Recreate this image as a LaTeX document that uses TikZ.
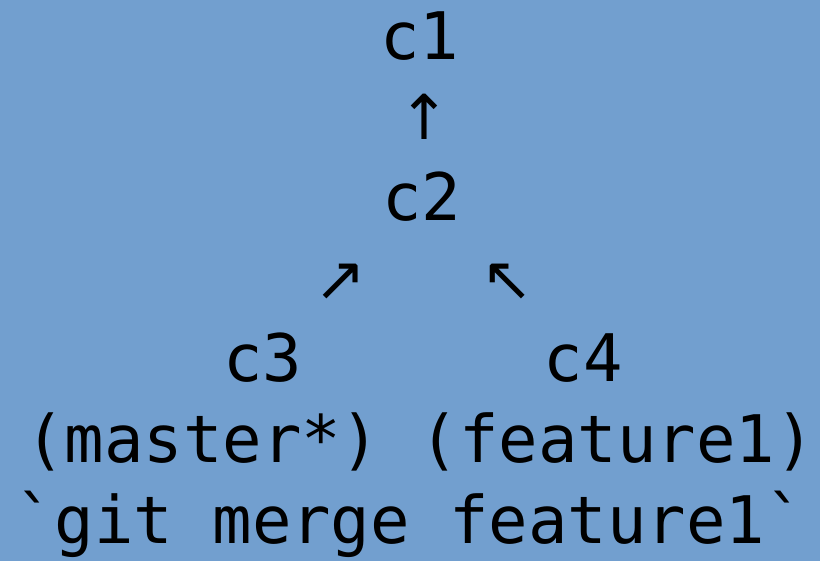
\documentclass[tikz,border=0pt]{standalone}
\usepackage{fontspec}
\newfontfamily\monofont{DejaVu Sans Mono}
\newfontfamily\arrowfont{DejaVu Sans}
\definecolor{bgblue}{HTML}{729FCF}
\begin{document}
\begin{tikzpicture}[x=1pt,y=-1pt,
  txt/.style={inner sep=0pt, outer sep=0pt, anchor=base, text=black,
    font=\monofont\fontsize{65.6}{80}\selectfont},
  arr/.style={inner sep=0pt, outer sep=0pt, anchor=base, text=black,
    font=\arrowfont\fontsize{62}{80}\selectfont}]
\fill[bgblue] (0,0) rectangle (820,561);
\useasboundingbox (0,0) rectangle (820,561);
\node[txt] (c1) at (420,60) {c1};
\node[arr] (a1) at (424,140) {↑};
\node[txt] (c2) at (422,221) {c2};
\node[arr] (a2) at (340,301) {↗};
\node[arr] (a3) at (507,301) {↖};
\node[txt] (c3) at (263,382) {c3};
\node[txt] (c4) at (583,382) {c4};
\node[txt] (br) at (420,462) {(master*) (feature1)};
\node[txt] (cmd) at (410,543) {`git merge feature1`};
\end{tikzpicture}
\end{document}
